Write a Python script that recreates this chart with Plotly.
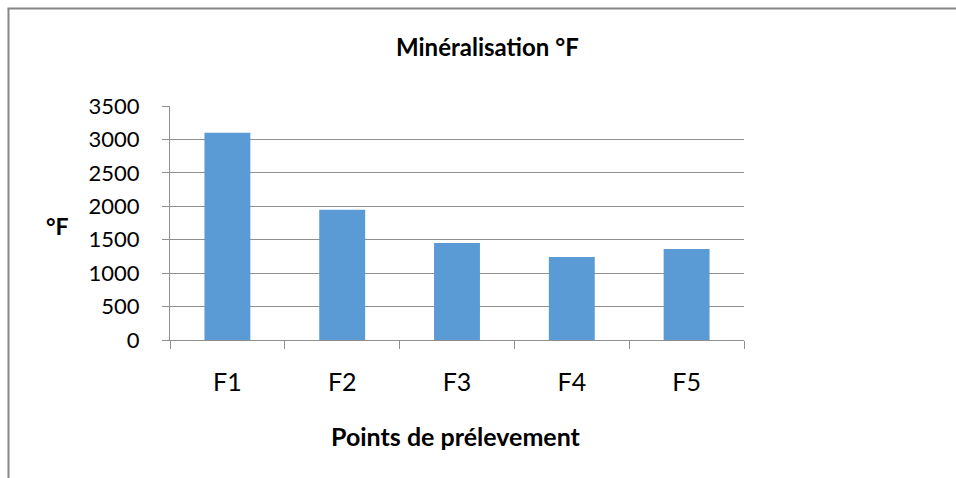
import plotly.graph_objects as go

# Sampling points and their mineralisation (°F)
points = ["F1", "F2", "F3", "F4", "F5"]
mineralisation = [3100, 1950, 1450, 1240, 1360]

y_ticks = [0, 500, 1000, 1500, 2000, 2500, 3000, 3500]

W, H = 956, 478
L, R, T, B = 170, 212, 106, 138
plot_w = W - L - R
plot_h = H - T - B

FONT = "Lato"
GRID = "#8f8f8f"


def px_x(px):
    return (px - L) / plot_w


def px_y(py):
    return (H - B - py) / plot_h


fig = go.Figure(
    go.Bar(
        x=points,
        y=mineralisation,
        marker=dict(color="#5b9bd5", line=dict(width=0)),
        width=0.4,
    )
)

fig.update_layout(
    width=W,
    height=H,
    margin=dict(l=L, r=R, t=T, b=B),
    paper_bgcolor="white",
    plot_bgcolor="white",
    showlegend=False,
    font=dict(family=FONT, size=22, color="#000000"),
    xaxis=dict(
        showline=True,
        linecolor=GRID,
        linewidth=1,
        ticks="outside",
        ticklen=8,
        tickcolor=GRID,
        tickson="boundaries",
        ticklabelstandoff=20,
        showgrid=False,
        tickfont=dict(family=FONT, size=25, color="#000000"),
    ),
    yaxis=dict(
        range=[0, 3500],
        tickvals=y_ticks,
        showline=True,
        linecolor=GRID,
        linewidth=1,
        ticks="outside",
        ticklen=7,
        tickcolor=GRID,
        ticklabelstandoff=18,
        showgrid=True,
        gridcolor=GRID,
        gridwidth=1,
        zeroline=False,
        tickfont=dict(family=FONT, size=22, color="#000000"),
    ),
    annotations=[
        dict(
            text="<b>Minéralisation °F</b>",
            xref="paper", yref="paper",
            x=px_x(487), y=px_y(46),
            xanchor="center", yanchor="middle",
            showarrow=False,
            font=dict(family=FONT, size=24, color="#000000"),
        ),
        dict(
            text="<b>°F</b>",
            xref="paper", yref="paper",
            x=px_x(57), y=px_y(226),
            xanchor="center", yanchor="middle",
            showarrow=False,
            font=dict(family=FONT, size=23, color="#000000"),
        ),
        dict(
            text="<b>Points de prélevement</b>",
            xref="paper", yref="paper",
            x=px_x(456), y=px_y(436),
            xanchor="center", yanchor="middle",
            showarrow=False,
            font=dict(family=FONT, size=25, color="#000000"),
        ),
    ],
    shapes=[
        # chart frame: left and top edges
        dict(type="line", xref="paper", yref="paper",
             x0=px_x(8.5), y0=px_y(8.5), x1=px_x(8.5), y1=px_y(H + 2),
             line=dict(color="#878787", width=2)),
        dict(type="line", xref="paper", yref="paper",
             x0=px_x(7.5), y0=px_y(8.5), x1=px_x(W + 2), y1=px_y(8.5),
             line=dict(color="#878787", width=2)),
    ],
)

fig.write_html("out.html")
